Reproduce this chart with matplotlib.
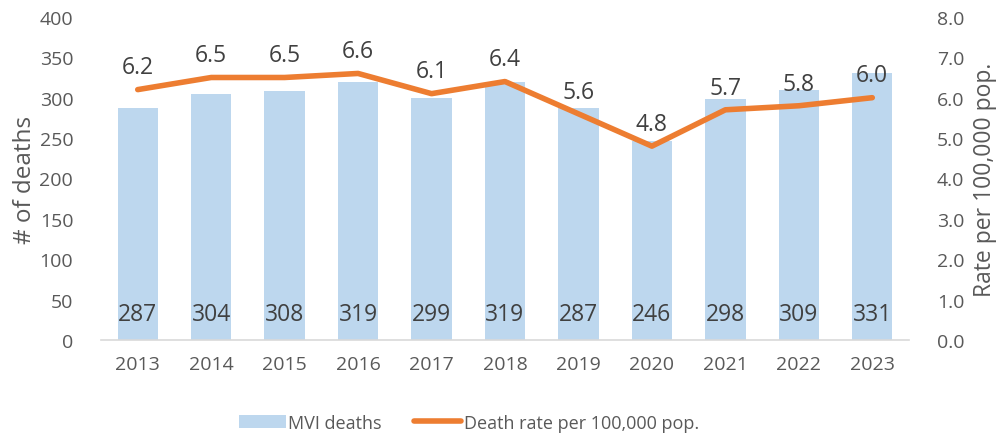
import matplotlib.pyplot as plt
import numpy as np

years = ['2013', '2014', '2015', '2016', '2017', '2018', '2019', '2020', '2021', '2022', '2023']
deaths = [287, 304, 308, 319, 299, 319, 287, 246, 298, 309, 331]
rates = [6.2, 6.5, 6.5, 6.6, 6.1, 6.4, 5.6, 4.8, 5.7, 5.8, 6.0]

plt.rcParams['font.family'] = ['Open Sans', 'DejaVu Sans']

bar_color = '#BDD7EE'
line_color = '#ED7D31'
tick_color = '#595959'
label_color = '#404040'

fig = plt.figure(figsize=(10, 4.39), dpi=100)
ax = fig.add_axes([0.101, 0.2232, 0.808, 0.736])
x = np.arange(len(years))

ax.bar(x, deaths, width=0.55, color=bar_color, label='MVI deaths', zorder=2)
for xi, d in zip(x, deaths):
    ax.text(xi, 32, str(d), ha='center', va='center', fontsize=16.5, color=label_color, zorder=5)

ax.set_xlim(-0.5, len(years) - 0.5)
ax.set_ylim(0, 400)
ax.set_yticks(range(0, 401, 50))
ax.set_xticks(x)
ax.set_xticklabels(years)
ax.tick_params(axis='both', length=0, labelsize=14, colors=tick_color)
ax.tick_params(axis='x', pad=11)
ax.tick_params(axis='y', pad=20)
ax.set_ylabel('# of deaths', fontsize=17.5, color=tick_color, labelpad=2)
for s in ['top', 'right', 'left']:
    ax.spines[s].set_visible(False)
ax.spines['bottom'].set_color('#D9D9D9')
ax.spines['bottom'].set_linewidth(1.2)

ax2 = ax.twinx()
ax2.plot(x, rates, color=line_color, linewidth=4, solid_capstyle='round',
         label='Death rate per 100,000 pop.', zorder=3)
for xi, r in zip(x, rates):
    ax2.text(xi, r + 0.55, f'{r:.1f}', ha='center', va='center', fontsize=16.5, color=label_color)
ax2.set_ylim(0, 8)
ax2.set_yticks(np.arange(0, 8.1, 1.0))
ax2.set_yticklabels([f'{v:.1f}' for v in np.arange(0, 8.1, 1.0)])
ax2.tick_params(axis='y', length=0, labelsize=14, colors=tick_color, pad=20)
ax2.set_ylabel('Rate per 100,000 pop.', fontsize=16.5, color=tick_color, labelpad=6)
for s in ax2.spines.values():
    s.set_visible(False)

h1, l1 = ax.get_legend_handles_labels()
h2, l2 = ax2.get_legend_handles_labels()
fig.legend(h1 + h2, l1 + l2, loc='center', bbox_to_anchor=(0.469, 0.035), ncol=2,
           frameon=False, fontsize=13, labelcolor=tick_color, handlelength=2.6,
           handletextpad=0.15, columnspacing=1.8)

fig.savefig('out.png', dpi=100)
